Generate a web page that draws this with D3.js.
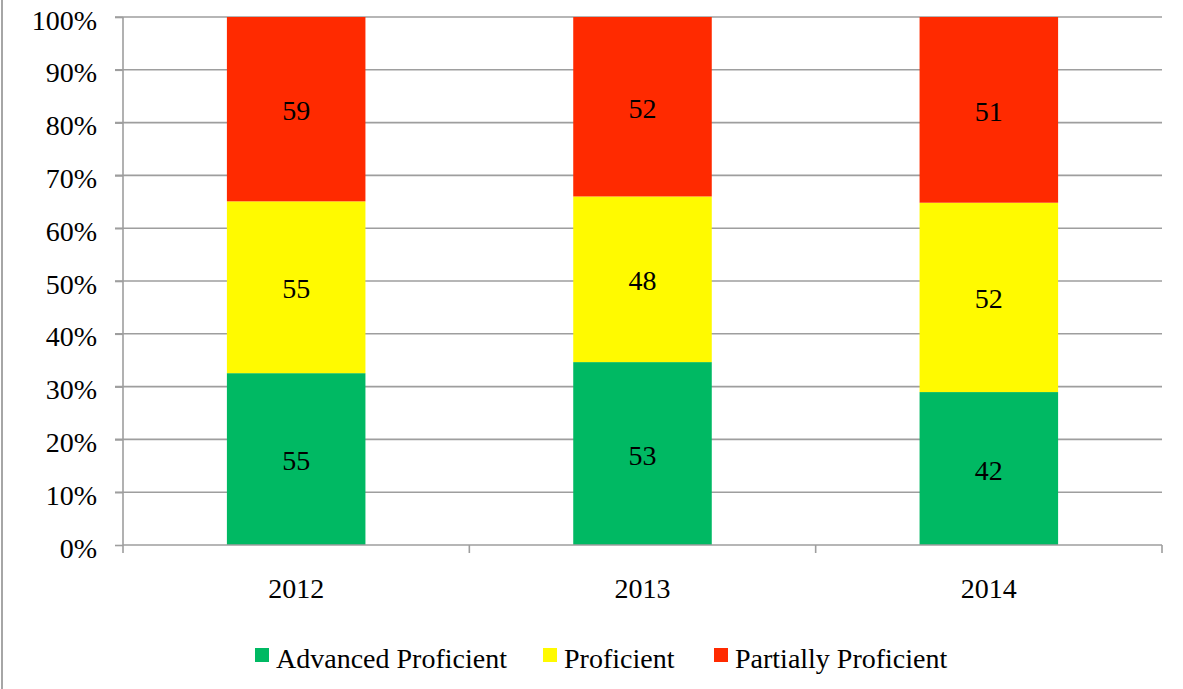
<!DOCTYPE html>
<html><head><meta charset="utf-8">
<script src="https://cdn.jsdelivr.net/npm/d3@7"></script>
<style>
html,body{margin:0;padding:0;background:#fff;}
svg{display:block;}
text{font-family:"Liberation Serif","DejaVu Serif",serif;fill:#000;}
</style></head>
<body>
<svg id="chart" width="1183" height="689"></svg>
<script>
const years = ["2012", "2013", "2014"];
const seriesNames = ["Advanced Proficient", "Proficient", "Partially Proficient"];
const advanced = [55, 53, 42];
const proficient = [55, 48, 52];
const partially = [59, 52, 51];
const yTicks = [0, 0.1, 0.2, 0.3, 0.4, 0.5, 0.6, 0.7, 0.8, 0.9, 1.0];
const colors = ["#00B963", "#FFFA00", "#FF2A00"];

(function () {
const rows = years.map((y, i) => ({year: y, a: advanced[i], p: proficient[i], pp: partially[i]}));
const stack = d3.stack().keys(["a", "p", "pp"]).offset(d3.stackOffsetExpand);
const layers = stack(rows);

const svg = d3.select("#chart");
const pLeft = 123, pRight = 1162, pTop = 17, pBottom = 545;
const FS = 28;

// outer left border
svg.append("line").attr("x1", 2).attr("x2", 2).attr("y1", 0).attr("y2", 689)
  .attr("stroke", "#a6a6a6").attr("stroke-width", 2);

const x = d3.scaleBand().domain(years).range([pLeft, pRight]).padding(0);
const y = d3.scaleLinear().domain([0, 1]).range([pBottom, pTop]);

// gridlines
svg.append("g").selectAll("line").data(yTicks.filter(t => t > 0)).join("line")
  .attr("x1", pLeft - 8).attr("x2", pRight)
  .attr("y1", d => y(d)).attr("y2", d => y(d))
  .attr("stroke", "#9e9e9e").attr("stroke-width", 1.6);

// bars
const bw = x.bandwidth() * 0.4;
layers.forEach((layer, li) => {
  svg.append("g").selectAll("rect").data(layer).join("rect")
    .attr("x", d => x(d.data.year) + (x.bandwidth() - bw) / 2)
    .attr("width", bw)
    .attr("y", d => y(d[1]))
    .attr("height", d => y(d[0]) - y(d[1]))
    .attr("fill", colors[li]);
  svg.append("g").selectAll("text").data(layer).join("text")
    .attr("x", d => x(d.data.year) + x.bandwidth() / 2)
    .attr("y", d => (y(d[0]) + y(d[1])) / 2 + 11)
    .attr("text-anchor", "middle")
    .attr("font-size", FS)
    .text(d => d.data[layer.key]);
});

// y axis
const yAxis = d3.axisLeft(y).tickValues(yTicks).tickFormat(d3.format(".0%")).tickSize(8).tickPadding(18);
const gy = svg.append("g").attr("transform", `translate(${pLeft},0)`).call(yAxis);
gy.select(".domain").attr("stroke", "#9e9e9e").attr("stroke-width", 1.6).attr("d", `M0,${pTop}V${pBottom}`);
gy.selectAll(".tick line").attr("stroke", "#9e9e9e").attr("stroke-width", 1.6);
gy.selectAll(".tick text").attr("font-size", FS).attr("font-family", '"Liberation Serif",serif').attr("fill", "#000").attr("dy", null).attr("y", 12);

// x axis
const xAxis = d3.axisBottom(x).tickSize(0).tickPadding(0);
const gx = svg.append("g").attr("transform", `translate(0,${pBottom})`).call(xAxis);
gx.select(".domain").attr("stroke", "#9e9e9e").attr("stroke-width", 1.6).attr("d", `M${pLeft},0H${pRight}`);
gx.selectAll(".tick text").attr("font-size", FS).attr("font-family", '"Liberation Serif",serif').attr("fill", "#000").attr("dy", null).attr("y", 53);
// category boundary ticks
const bounds = years.map(c => x(c)).concat([pRight]);
gx.append("g").selectAll("line").data(bounds).join("line")
  .attr("x1", d => d).attr("x2", d => d).attr("y1", 0).attr("y2", 8)
  .attr("stroke", "#9e9e9e").attr("stroke-width", 1.6);

// legend
const legendX = [255, 543, 714];
const lg = svg.append("g");
seriesNames.forEach((name, i) => {
  lg.append("rect").attr("x", legendX[i]).attr("y", 648).attr("width", 14).attr("height", 14).attr("fill", colors[i]);
  lg.append("text").attr("x", legendX[i] + 21).attr("y", 668).attr("font-size", FS).text(name);
});
})();
</script>
</body></html>
